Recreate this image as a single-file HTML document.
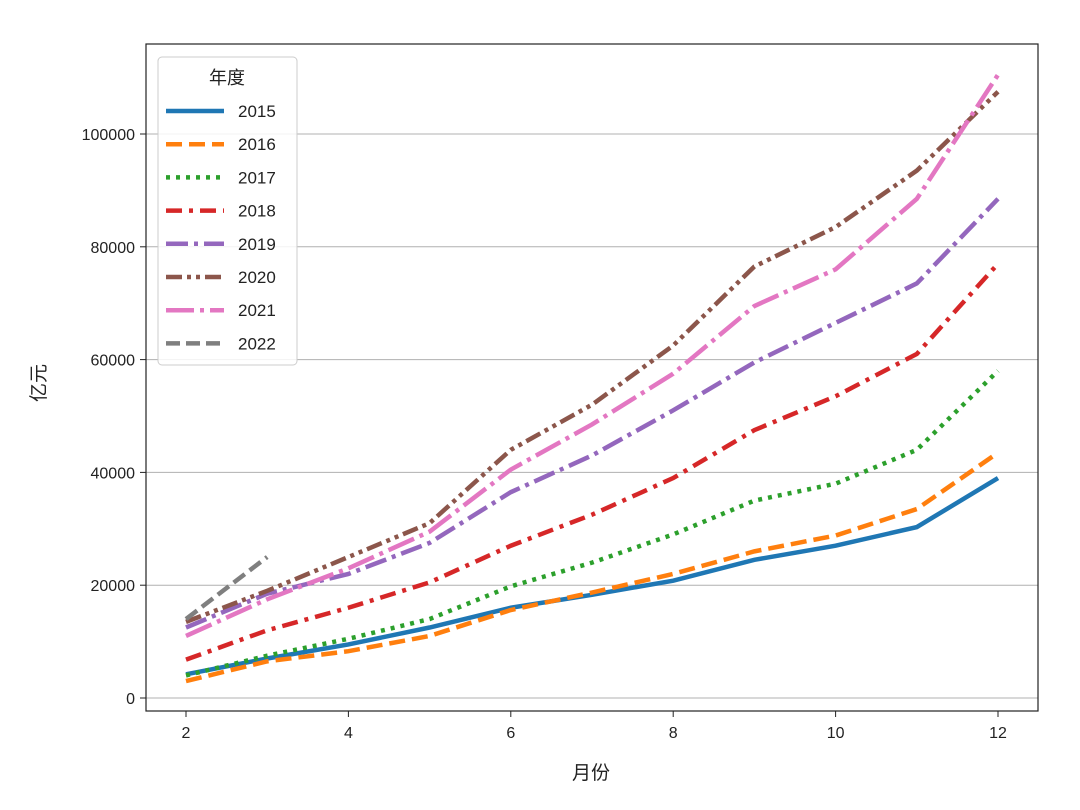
<!DOCTYPE html>
<html><head><meta charset="utf-8"><style>
body{margin:0;background:#fff}
svg text{font-family:"Liberation Sans","Noto Sans CJK SC",sans-serif;fill:#222}
</style></head><body>
<svg id="c" width="1080" height="805" viewBox="0 0 1080 805"></svg>
<script>
const months=[2,3,4,5,6,7,8,9,10,11,12];
const years=["2015","2016","2017","2018","2019","2020","2021","2022"];
const s2015=[4200,7000,9500,12500,16000,18300,20800,24500,27000,30300,39000];
const s2016=[3000,6500,8300,11000,15600,18700,22000,26000,28800,33500,43500];
const s2017=[4000,7500,10500,14000,19800,24000,29000,35000,38000,44000,58000];
const s2018=[6800,12000,16000,20500,27000,32500,39000,47500,53500,61000,77000];
const s2019=[12500,18500,22000,27500,36500,43000,51000,59500,66500,73500,88500];
const s2020=[13500,19000,25000,31000,44000,52000,62500,76500,83500,93500,107500];
const s2021=[11000,17500,23000,29500,40500,48500,57500,69500,76000,88500,110500];
const s2022=[14000,25000];
const xTicks=[2,4,6,8,10,12];
const yTicks=[0,20000,40000,60000,80000,100000];
const series=[s2015,s2016,s2017,s2018,s2019,s2020,s2021,s2022];
const colors=["#1f77b4","#ff7f0e","#2ca02c","#d62728","#9467bd","#8c564b","#e377c2","#7f7f7f"];
const dashes=["","16,7","4,6","16,7,4,7","22,6,4,6","16,5,4,5,4,5","28,6,4,6","14,6"];
const X=v=>186+(v-2)*81.2, Y=v=>698-v*0.00564;
const svg=document.getElementById('c');const NS="http://www.w3.org/2000/svg";
function el(t,a,txt){const e=document.createElementNS(NS,t);for(const k in a)e.setAttribute(k,a[k]);if(txt!=null)e.textContent=txt;svg.appendChild(e);return e;}
yTicks.forEach(v=>{
 const g=el('line',{x1:146,x2:1038,y1:Y(v),y2:Y(v),stroke:'#b0b0b0','stroke-width':1});
 
 const tk=el('line',{x1:140,x2:146,y1:Y(v),y2:Y(v),stroke:'#222'});
 
 const t=el('text',{x:135,y:Y(v)+6,'text-anchor':'end','font-size':16},v);
 
});
xTicks.forEach(v=>{
 const tk=el('line',{x1:X(v),x2:X(v),y1:711,y2:717,stroke:'#222'});
 
 const t=el('text',{x:X(v),y:738,'text-anchor':'middle','font-size':16},v);
 
});
series.forEach((s,i)=>{
 const p=el('polyline',{points:s.map((v,j)=>X(months[j])+','+Y(v)).join(' '),fill:'none',stroke:colors[i],'stroke-width':4.5,'stroke-dasharray':dashes[i]});
 
});
const fr=el('rect',{x:146,y:44,width:892,height:667,fill:'none',stroke:'#222','stroke-width':1.2});

const yl=el('text',{x:45,y:383,'text-anchor':'middle','font-size':19,transform:'rotate(-90 45 383)'},'亿元');

const xl=el('text',{x:591,y:779,'text-anchor':'middle','font-size':19},'月份');

const lb=el('rect',{x:158,y:57,width:139,height:308,rx:4,fill:'#fff','fill-opacity':0.85,stroke:'#ccc'});

const lt=el('text',{x:227,y:84,'text-anchor':'middle','font-size':18},'年度');

years.forEach((y,i)=>{
 const yy=111+i*33.2;
 const l=el('line',{x1:166,x2:224,y1:yy,y2:yy,stroke:colors[i],'stroke-width':4.5,'stroke-dasharray':dashes[i]});
 
 const t=el('text',{x:238,y:yy+6,'font-size':17},y);
 
});
</script>
</body></html>
